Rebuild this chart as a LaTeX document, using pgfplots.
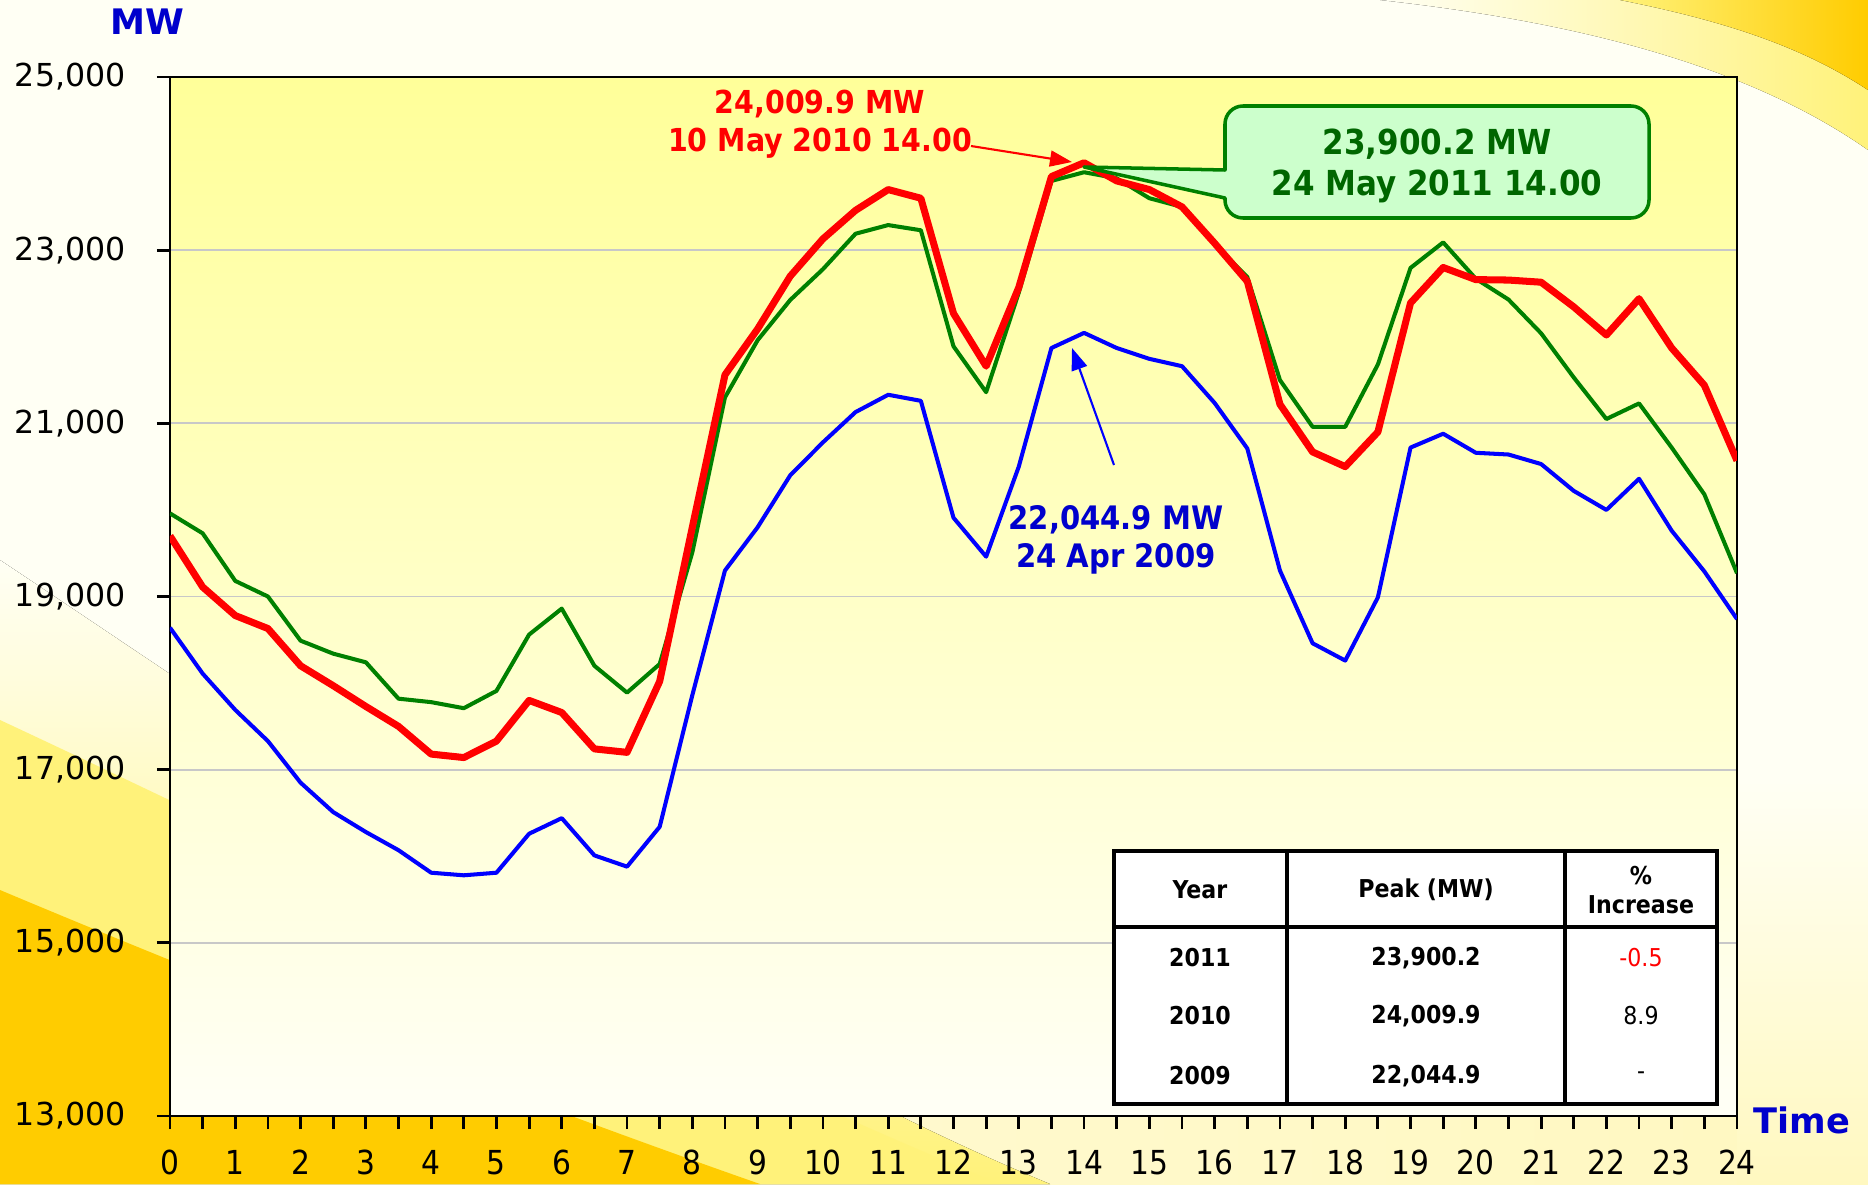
\documentclass[border=0pt]{standalone}
\usepackage{pgfplots}
\pgfplotsset{compat=1.18}
\usepackage{pgfplotstable}
\usetikzlibrary{arrows.meta}
\usepackage{fontspec}
\setmainfont{DejaVu Sans}
\newfontfamily\condfont[BoldFont={DejaVu Sans Condensed Bold}]{DejaVu Sans Condensed}

\definecolor{cRed}{HTML}{FF0000}
\definecolor{cGreen}{HTML}{008000}
\definecolor{cBlue}{HTML}{0000FF}
\definecolor{tGreen}{HTML}{006600}
\definecolor{tBlue}{HTML}{0000CC}
\definecolor{callFill}{HTML}{CCFFCC}
\definecolor{plotTop}{HTML}{FFFF99}
\definecolor{plotBot}{HTML}{FFFFF6}
\definecolor{bgCream}{HTML}{FFFFF4}
\definecolor{bgOrange}{HTML}{FFCC00}
\definecolor{bgYellow}{HTML}{FFF27A}
\definecolor{bgPale}{HTML}{FFF8C0}
\definecolor{gridGray}{HTML}{C8C8C8}

% hour, MW (2010)
\pgfplotstableread{
t y
0 19700
0.5 19110
1 18780
1.5 18630
2 18200
2.5 17970
3 17730
3.5 17500
4 17180
4.5 17140
5 17330
5.5 17800
6 17660
6.5 17240
7 17200
7.5 18020
8 19800
8.5 21560
9 22090
9.5 22700
10 23130
10.5 23460
11 23700
11.5 23600
12 22270
12.5 21660
13 22570
13.5 23850
14 24009.9
14.5 23800
15 23700
15.5 23500
16 23080
16.5 22640
17 21220
17.5 20670
18 20500
18.5 20900
19 22390
19.5 22800
20 22660
20.5 22655
21 22630
21.5 22345
22 22020
22.5 22440
23 21870
23.5 21440
24 20570
}\dataTen

% hour, MW (2011)
\pgfplotstableread{
t y
0 19960
0.5 19730
1 19180
1.5 19000
2 18490
2.5 18340
3 18240
3.5 17820
4 17780
4.5 17710
5 17910
5.5 18560
6 18860
6.5 18200
7 17890
7.5 18220
8 19510
8.5 21300
9 21960
9.5 22425
10 22780
10.5 23190
11 23290
11.5 23230
12 21890
12.5 21360
13 22510
13.5 23800
14 23900.2
14.5 23830
15 23600
15.5 23500
16 23070
16.5 22690
17 21500
17.5 20960
18 20960
18.5 21680
19 22795
19.5 23090
20 22670
20.5 22430
21 22040
21.5 21530
22 21050
22.5 21230
23 20720
23.5 20180
24 19270
}\dataEleven

% hour, MW (2009)
\pgfplotstableread{
t y
0 18640
0.5 18110
1 17690
1.5 17330
2 16850
2.5 16510
3 16280
3.5 16070
4 15810
4.5 15780
5 15810
5.5 16260
6 16440
6.5 16010
7 15880
7.5 16340
8 17860
8.5 19300
9 19800
9.5 20400
10 20780
10.5 21130
11 21330
11.5 21260
12 19910
12.5 19460
13 20500
13.5 21870
14 22044.9
14.5 21870
15 21745
15.5 21660
16 21235
16.5 20710
17 19300
17.5 18460
18 18260
18.5 18990
19 20720
19.5 20880
20 20660
20.5 20640
21 20530
21.5 20220
22 20000
22.5 20360
23 19760
23.5 19290
24 18740
}\dataNine

\begin{document}
\begin{tikzpicture}
% ---------- background (coordinates in reference pixels) ----------
\begin{scope}[x=0.1mm,y=-0.1mm,shift={(-170,-1116)}]
  \fill[bgCream] (0,0) rectangle (1868,1184);
  \fill[left color=bgPale!60!white, right color=bgPale] (0,1080) rectangle (1868,1184);
  \fill[bottom color=bgPale, top color=bgCream] (1737,780) rectangle (1868,1184);
  \fill[bottom color=bgYellow, top color=bgCream] (0,560) .. controls (300,760) and (700,1040) .. (1050,1184) -- (0,1184) -- cycle;
  \fill[bgYellow] (0,720) .. controls (300,860) and (700,1060) .. (1000,1184) -- (0,1184) -- cycle;
  \fill[bgOrange] (0,890) .. controls (250,995) and (520,1100) .. (760,1184) -- (0,1184) -- cycle;
  \fill[left color=bgCream, right color=bgYellow] (1380,0) .. controls (1560,20) and (1740,60) .. (1868,150) -- (1868,0) -- cycle;
  \fill[left color=bgYellow, right color=bgOrange] (1620,0) .. controls (1720,20) and (1800,45) .. (1868,90) -- (1868,0) -- cycle;
\end{scope}

% ---------- chart ----------
\begin{axis}[
  scale only axis,
  width=156.7mm, height=103.9mm,
  xmin=0, xmax=24, ymin=13000, ymax=25000,
  xtick={0,1,...,24},
  minor xtick={0.5,1.5,...,23.5},
  ytick={13000,15000,...,25000},
  scaled y ticks=false,
  tick align=outside,
  xtick pos=bottom, ytick pos=left,
  major tick length=1.3mm, minor tick length=1.3mm,
  every tick/.append style={black, line width=0.8pt},
  every minor tick/.append style={black, line width=0.8pt},
  axis line style={black, line width=0.8pt},
  ymajorgrids,
  major grid style={gridGray, line width=0.5pt},
  /pgf/number format/fixed,
  /pgf/number format/1000 sep={,},
  /pgf/number format/assume math mode=true,
  yticklabel style={font=\fontsize{9}{10}\selectfont, xshift=-1.9mm},
  xticklabel style={font=\condfont\fontsize{9.4}{10}\selectfont, yshift=-0.9mm},
  axis background/.style={top color=plotTop, bottom color=plotBot},
]
\addplot[cGreen, line width=1.15pt, line join=round] table[x=t,y=y] {\dataEleven};
\addplot[cBlue, line width=1.15pt, line join=round] table[x=t,y=y] {\dataNine};
\addplot[cRed, line width=2pt, line join=round] table[x=t,y=y] {\dataTen};
\end{axis}

% ---------- annotations (coordinates in reference pixels) ----------
\begin{scope}[x=0.1mm,y=-0.1mm,shift={(-170,-1116)}]
  % axis titles
  \node[text=tBlue, font=\bfseries\fontsize{10}{12}\selectfont] at (147,22) {MW};
  \node[text=tBlue, font=\bfseries\fontsize{10}{12}\selectfont] at (1802,1120) {Time};
  % red annotation
  \node[text=cRed, font=\condfont\bfseries\fontsize{9}{10.8}\selectfont, align=center] at (820,124)
    {24,009.9 MW\\10 May 2010 14.00};
  \draw[cRed, line width=0.6pt, -{Triangle[length=2.2mm,width=1.6mm]}] (971,146) -- (1072,162);
  % blue annotation
  \node[text=tBlue, font=\condfont\bfseries\fontsize{9.2}{10.8}\selectfont, align=center] at (1116,540)
    {22,044.9 MW\\24 Apr 2009};
  \draw[cBlue, line width=0.6pt, -{Triangle[length=2.2mm,width=1.6mm]}] (1114,465) -- (1072,348);
  % green callout
  \filldraw[fill=callFill, draw=cGreen, line width=1pt, line join=round]
    (1084,167) -- (1225,170) [rounded corners=1.8mm] -- (1225,106) -- (1649,106) -- (1649,218) -- (1225,218) [sharp corners] -- (1225,198) -- cycle;
  \node[text=tGreen, font=\condfont\bfseries\fontsize{9.8}{11.7}\selectfont, align=center] at (1437,166)
    {23,900.2 MW\\24 May 2011 14.00};
  % table
  \filldraw[fill=white, draw=black, line width=1pt] (1114,851) rectangle (1717,1104);
  \draw[black, line width=1pt] (1287,851) -- (1287,1104) (1565,851) -- (1565,1104) (1114,927) -- (1717,927);
  \begin{scope}[every node/.style={font=\condfont\bfseries\fontsize{7}{8}\selectfont}]
    \node at (1200,890) {Year};
    \node at (1426,890) {Peak (MW)};
    \node[align=center] at (1641,890) {\%\\Increase};
    \node at (1200,958) {2011};
    \node at (1426,958) {23,900.2};
    \node at (1200,1016) {2010};
    \node at (1426,1016) {24,009.9};
    \node at (1200,1076) {2009};
    \node at (1426,1076) {22,044.9};
  \end{scope}
  \begin{scope}[every node/.style={font=\condfont\fontsize{7}{8}\selectfont}]
    \node[text=cRed] at (1641,958) {-0.5};
    \node at (1641,1016) {8.9};
    \node at (1641,1076) {-};
  \end{scope}
  \pgfresetboundingbox
  \path[use as bounding box] (0,0) rectangle (1868,1184);
\end{scope}
\end{tikzpicture}
\end{document}
